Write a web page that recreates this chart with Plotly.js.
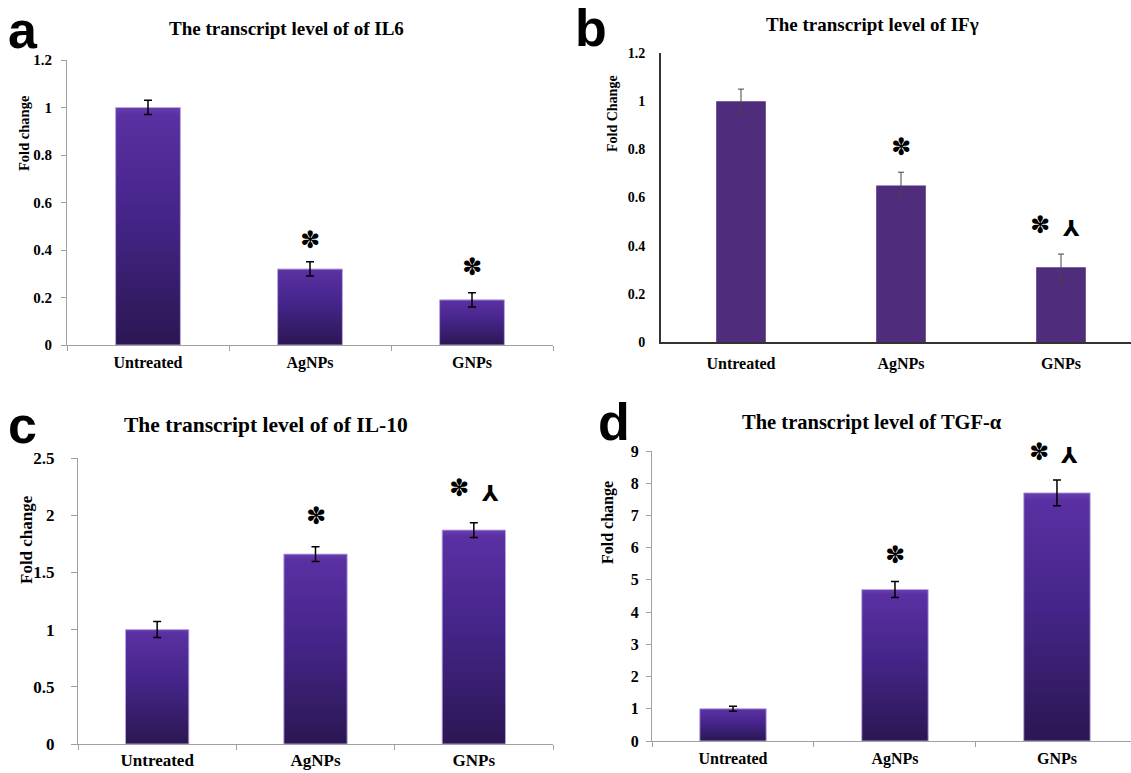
<!DOCTYPE html>
<html>
<head>
<meta charset="utf-8">
<script src="https://cdn.plot.ly/plotly-3.0.1.min.js"></script>
<style>
  html, body { margin: 0; padding: 0; background: #fff; }
  #chart { width: 1131px; height: 773px; }
</style>
</head>
<body>
<div id="chart"></div>
<script>
// ---- data ----
const categories = ['Untreated', 'AgNPs', 'GNPs'];

const il6Values = [1.0, 0.32, 0.19];
const il6Errors = [0.03, 0.03, 0.03];

const ifgValues = [1.0, 0.65, 0.31];
const ifgErrors = [0.05, 0.055, 0.055];

const il10Values = [1.0, 1.66, 1.87];
const il10Errors = [0.07, 0.065, 0.065];

const tgfValues = [1.0, 4.70, 7.70];
const tgfErrors = [0.08, 0.25, 0.40];

const panelTitles = [
  'The transcript level of of IL6',
  'The transcript level of IFγ',
  'The transcript level of of IL-10',
  'The transcript level of TGF-α'
];
const panelLetters = ['a', 'b', 'c', 'd'];
const yTitles = ['Fold change', 'Fold Change', 'Fold change', 'Fold change'];

// significance marks: [panel, category, y, symbol]
const sigMarks = [
  [0, 'AgNPs', 0.442, '✽'],
  [0, 'GNPs', 0.33, '✽'],
  [1, 'AgNPs', 0.81, '✽'],
  [1, 'GNPs', 0.486, '✽'],
  [1, 'GNPs', 0.47, '⅄'],
  [2, 'AgNPs', 1.99, '✽'],
  [2, 'GNPs', 2.24, '✽'],
  [2, 'GNPs', 2.19, '⅄'],
  [3, 'AgNPs', 5.77, '✽'],
  [3, 'GNPs', 8.98, '✽'],
  [3, 'GNPs', 8.85, '⅄']
];

// ---- styling ----
const GRAD_BASE = '#4a2690';
const SOLID_B = '#4f2d7c';
const serif = 'Liberation Serif';
const sans = 'Liberation Sans';

function barTrace(values, errors, xa, ya, color, width, lineColor, errColor, errThick, errWidth) {
  return {
    type: 'bar', x: categories, y: values, xaxis: xa, yaxis: ya,
    width: width,
    marker: { color: color, line: { color: lineColor || 'rgba(0,0,0,0)', width: lineColor ? 1 : 0 } },
    error_y: { type: 'data', array: errors, visible: true, color: errColor, thickness: errThick, width: errWidth },
    showlegend: false, hoverinfo: 'skip', cliponaxis: false
  };
}

const data = [
  barTrace(il6Values, il6Errors, 'x', 'y', GRAD_BASE, 0.4, 'rgba(185,165,225,0.9)', '#000', 1.5, 4),
  barTrace(ifgValues, ifgErrors, 'x2', 'y2', SOLID_B, 0.31, null, '#444', 1, 3),
  barTrace(il10Values, il10Errors, 'x3', 'y3', GRAD_BASE, 0.4, 'rgba(185,165,225,0.9)', '#000', 1.5, 4),
  barTrace(tgfValues, tgfErrors, 'x4', 'y4', GRAD_BASE, 0.41, 'rgba(185,165,225,0.9)', '#000', 1.5, 4)
];

const W = 1131, H = 773;
const px = v => v / W;
const py = v => 1 - v / H;

function xAxis(anchor, domain, range, style) {
  return {
    anchor: anchor, domain: domain, range: range, type: 'category',
    showline: true, linecolor: style.lineColor, linewidth: style.lineWidth,
    ticks: style.ticks, ticklen: 5, tickcolor: style.lineColor, tickson: 'boundaries',
    showgrid: false, zeroline: false, fixedrange: true, automargin: false,
    tickfont: { family: serif, size: style.xFont, weight: 'bold', color: '#000' },
    ticklabelstandoff: style.xStandoff
  };
}
function yAxis(anchor, domain, range, dtick, style) {
  return {
    anchor: anchor, domain: domain, range: range, dtick: dtick, tick0: 0,
    showline: true, linecolor: style.lineColor, linewidth: style.lineWidth,
    ticks: style.ticks, ticklen: style.ticklen || 5, tickcolor: style.lineColor,
    showgrid: false, zeroline: false, fixedrange: true, automargin: false,
    tickfont: { family: serif, size: style.yFont, weight: 'bold', color: '#000' },
    ticklabelstandoff: style.yStandoff
  };
}

const styleA = { lineColor: '#a0a0a0', lineWidth: 1, ticks: 'outside', xFont: 16, yFont: 15, xStandoff: 3, yStandoff: 6 };
const styleB = { lineColor: '#333', lineWidth: 2, ticks: '', xFont: 16, yFont: 14, xStandoff: 6, yStandoff: 11 };
const styleC = { lineColor: '#a0a0a0', lineWidth: 1, ticks: 'outside', ticklen: 6, xFont: 17, yFont: 17, xStandoff: 1, yStandoff: 13 };
const styleD = { lineColor: '#a0a0a0', lineWidth: 1, ticks: 'outside', xFont: 16, yFont: 16, xStandoff: 3, yStandoff: 4 };

const layout = {
  width: W, height: H,
  margin: { l: 0, r: 0, t: 0, b: 0 },
  paper_bgcolor: '#fff', plot_bgcolor: 'rgba(0,0,0,0)',
  showlegend: false,
  xaxis:  xAxis('y',  [px(67), px(553)], [-0.5, 2.5], styleA),
  yaxis:  yAxis('x',  [py(345), py(60)], [0, 1.2], 0.2, styleA),
  xaxis2: xAxis('y2', [px(661), 1], [-0.5, 2.4375], styleB),
  yaxis2: yAxis('x2', [py(342), py(53)], [0, 1.2], 0.2, styleB),
  xaxis3: xAxis('y3', [px(78), px(553)], [-0.5, 2.5], styleC),
  yaxis3: yAxis('x3', [py(744), py(458)], [0, 2.5], 0.5, styleC),
  xaxis4: xAxis('y4', [px(652), 1], [-0.5, 2.457], styleD),
  yaxis4: yAxis('x4', [py(741), py(451)], [0, 9], 1, styleD),
  annotations: []
};

// panel titles
const titlePos = [[286, 28, 19], [872, 25, 19], [266, 425, 21.5], [872, 423, 20.5]];
panelTitles.forEach((t, i) => {
  layout.annotations.push({
    xref: 'paper', yref: 'paper', x: px(titlePos[i][0]), y: py(titlePos[i][1]),
    xanchor: 'center', yanchor: 'middle', showarrow: false, text: t,
    font: { family: serif, size: titlePos[i][2], weight: 'bold', color: '#000' }
  });
});

// panel letters
const letterPos = [[23, 30], [591, 28], [22, 425], [614, 422]];
panelLetters.forEach((t, i) => {
  layout.annotations.push({
    xref: 'paper', yref: 'paper', x: px(letterPos[i][0]), y: py(letterPos[i][1]),
    xanchor: 'center', yanchor: 'middle', showarrow: false, text: t,
    height: 40,
    font: { family: sans, size: 52, weight: 'bold', color: '#000' }
  });
});

// y-axis titles
const yTitlePos = [[24, 133, 14.5], [613, 114, 14], [26, 540, 17], [608, 523, 16]];
yTitles.forEach((t, i) => {
  layout.annotations.push({
    xref: 'paper', yref: 'paper', x: px(yTitlePos[i][0]), y: py(yTitlePos[i][1]),
    xanchor: 'center', yanchor: 'middle', showarrow: false, text: t, textangle: -90,
    font: { family: serif, size: yTitlePos[i][2], weight: 'bold', color: '#000' }
  });
});

// significance marks
const axesIds = [['x', 'y'], ['x2', 'y2'], ['x3', 'y3'], ['x4', 'y4']];
const starShift = [0, -21, -15, -18];
const humpShift = [0, 10, 16, 12];
sigMarks.forEach(m => {
  const p = m[0];
  const isStar = m[3] === '✽';
  const paired = sigMarks.some(o => o[0] === p && o[1] === m[1] && o[3] !== m[3]);
  layout.annotations.push({
    xref: axesIds[p][0], yref: axesIds[p][1], x: m[1], y: m[2],
    xanchor: 'center', yanchor: 'middle', showarrow: false, text: m[3],
    xshift: isStar ? (paired ? starShift[p] : 0) : humpShift[p],
    font: { family: 'DejaVu Sans', size: isStar ? 24 : 22, weight: 'bold', color: '#000' }
  });
});

Plotly.newPlot('chart', data, layout, { staticPlot: true, displayModeBar: false }).then(gd => {
  const ns = 'http://www.w3.org/2000/svg';
  const svg = gd.querySelector('.main-svg');
  let defs = svg.querySelector('defs');
  if (!defs) { defs = document.createElementNS(ns, 'defs'); svg.insertBefore(defs, svg.firstChild); }
  const lg = document.createElementNS(ns, 'linearGradient');
  lg.setAttribute('id', 'barGrad');
  lg.setAttribute('x1', '0'); lg.setAttribute('y1', '0');
  lg.setAttribute('x2', '0'); lg.setAttribute('y2', '1');
  [['0', '#6a3fb0'], ['0.03', '#5a30a2'], ['0.45', '#45258a'], ['1', '#2b1752']].forEach(s => {
    const st = document.createElementNS(ns, 'stop');
    st.setAttribute('offset', s[0]);
    st.setAttribute('stop-color', s[1]);
    lg.appendChild(st);
  });
  defs.appendChild(lg);
  gd.querySelectorAll('.barlayer .point path').forEach(p => {
    const f = p.style.fill.replace(/\s/g, '');
    if (f === 'rgb(74,38,144)') p.style.fill = 'url(#barGrad)';
  });
});
</script>
</body>
</html>
